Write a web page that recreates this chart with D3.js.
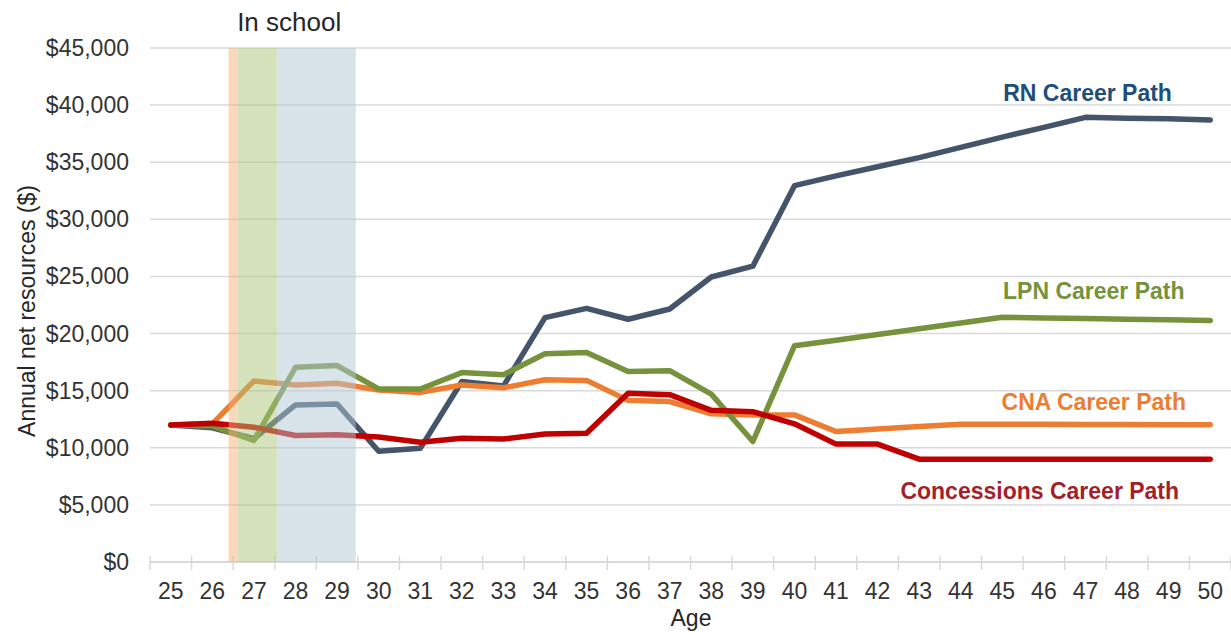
<!DOCTYPE html>
<html>
<head>
<meta charset="utf-8">
<script src="https://cdn.jsdelivr.net/npm/d3@7"></script>
<style>
  html, body { margin: 0; padding: 0; background: #fff; }
  svg { display: block; font-family: Arial, "Liberation Sans", sans-serif; }
</style>
</head>
<body>
<svg id="chart" width="1231" height="635"></svg>
<script>
// ---- Data ----
const ages = [25,26,27,28,29,30,31,32,33,34,35,36,37,38,39,40,41,42,43,44,45,46,47,48,49,50];
const rnValues = [12000,11750,10800,13750,13830,9700,9950,15800,15400,21400,22200,21250,22150,24950,25900,32950,33800,34600,35400,36300,37200,38050,38930,38850,38800,38700];
const lpnValues = [12000,11900,10650,17050,17200,15150,15150,16580,16400,18230,18350,16680,16750,14700,10550,18930,19420,19920,20420,20920,21420,21370,21320,21260,21200,21150];
const cnaValues = [12000,12100,15850,15500,15650,15050,14850,15500,15250,15950,15900,14150,14050,12980,12860,12880,11420,11640,11860,12060,12060,12050,12040,12030,12020,12010];
const concValues = [12000,12150,11800,11080,11130,10950,10480,10840,10760,11210,11270,14780,14650,13280,13160,12100,10320,10320,9000,9000,9000,9000,9000,9000,9000,9000];
const seriesNames = ["RN Career Path","CNA Career Path","LPN Career Path","Concessions Career Path"];
const yTicks = [0,5000,10000,15000,20000,25000,30000,35000,40000,45000];
// school periods (in age units, band centres = whole ages)
const schoolStart = [26.39, 26.61, 27.55];
const schoolEnd   = [26.61, 27.55, 29.45];
const schoolTitle = "In school";

// ---- Layout ----
const svg = d3.select("#chart");
const mLeft = 150, mRight = 1231, mTop = 48, mBottom = 562;

const x = d3.scaleBand().domain(ages).range([mLeft, mRight]).paddingInner(0).paddingOuter(0);
const bw = x.bandwidth();
const xc = a => x(a) + bw / 2;
const xLin = d3.scaleLinear().domain([ages[0], ages[ages.length-1]]).range([xc(ages[0]), xc(ages[ages.length-1])]);
const y = d3.scaleLinear().domain([0, 45000]).range([mBottom, mTop]);

// gridlines
svg.append("g").selectAll("line").data(yTicks.filter(d => d > 0)).join("line")
  .attr("x1", mLeft).attr("x2", mRight)
  .attr("y1", d => y(d)).attr("y2", d => y(d))
  .attr("stroke", "#d9d9d9").attr("stroke-width", 1.5);

// y tick labels
svg.append("g").selectAll("text").data(yTicks).join("text")
  .attr("x", 129).attr("y", d => y(d)).attr("dy", "0.35em")
  .attr("text-anchor", "end").attr("font-size", 23).attr("fill", "#333")
  .text(d => "$" + d3.format(",")(d));

// x axis
const xAxis = svg.append("g").attr("transform", `translate(0,${mBottom})`)
  .call(d3.axisBottom(x).tickSize(0).tickPadding(0).tickFormat(d => d));
xAxis.select(".domain").remove();
xAxis.selectAll("text").attr("font-size", 23).attr("fill", "#333")
  .attr("font-family", "Arial, 'Liberation Sans', sans-serif")
  .attr("y", 37).attr("dy", 0);
svg.append("line").attr("x1", mLeft).attr("x2", mRight).attr("y1", mBottom).attr("y2", mBottom)
  .attr("stroke", "#d9d9d9").attr("stroke-width", 2);
const boundaries = ages.map(a => x(a)).concat([x(ages[ages.length-1]) + bw]);
svg.append("g").selectAll("line").data(boundaries).join("line")
  .attr("x1", d => d).attr("x2", d => d)
  .attr("y1", mBottom - 6).attr("y2", mBottom + 8)
  .attr("stroke", "#d9d9d9").attr("stroke-width", 1.5);

// lines
const line = d3.line().x((d, i) => xc(ages[i])).y(d => y(d));
const seriesData = [
  {vals: rnValues, color: "#44546A"},
  {vals: cnaValues, color: "#ED7D31"},
  {vals: lpnValues, color: "#76923C"},
  {vals: concValues, color: "#C00000"}
];
svg.append("g").selectAll("path").data(seriesData).join("path")
  .attr("d", d => line(d.vals))
  .attr("fill", "none").attr("stroke", d => d.color)
  .attr("stroke-width", 5.5).attr("stroke-linejoin", "round").attr("stroke-linecap", "round");

// school bands (overlay)
const bandColors = ["rgb(244,178,122)", "rgb(172,198,122)", "rgb(180,201,214)"];
svg.append("g").selectAll("rect").data(schoolStart).join("rect")
  .attr("x", (d) => xLin(d))
  .attr("width", (d, i) => xLin(schoolEnd[i]) - xLin(d))
  .attr("y", mTop).attr("height", mBottom - mTop)
  .attr("fill", (d, i) => bandColors[i]).attr("fill-opacity", 0.5);

svg.append("text").attr("x", xLin((schoolStart[0] + schoolEnd[2]) / 2) - 3).attr("y", 31)
  .attr("text-anchor", "middle").attr("font-size", 26).attr("fill", "#262626").text(schoolTitle);

// series labels
const labelInfo = [
  {text: seriesNames[0], age: 47.05, val: 40350, color: "#1F4E79"},
  {text: seriesNames[2], age: 47.2, val: 23000, color: "#76923C"},
  {text: seriesNames[1], age: 47.2, val: 13300, color: "#ED7D31"},
  {text: seriesNames[3], age: 45.9, val: 5500, color: "#A31F2A"}
];
svg.append("g").selectAll("text").data(labelInfo).join("text")
  .attr("x", d => xLin(d.age)).attr("y", d => y(d.val))
  .attr("text-anchor", "middle").attr("font-size", 23).attr("font-weight", "bold")
  .attr("fill", d => d.color).text(d => d.text);

// axis titles
svg.append("text").attr("transform", `translate(35,311) rotate(-90)`)
  .attr("text-anchor", "middle").attr("font-size", 23).attr("fill", "#262626")
  .text("Annual net resources ($)");
svg.append("text").attr("x", 691).attr("y", 626)
  .attr("text-anchor", "middle").attr("font-size", 23).attr("fill", "#262626").text("Age");
</script>
</body>
</html>
